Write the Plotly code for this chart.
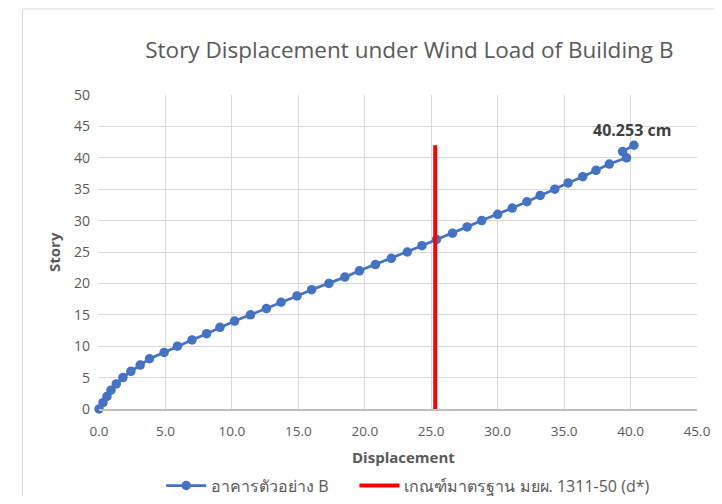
import plotly.graph_objects as go

# Data
story = list(range(0, 43))
displacement = [0.0, 0.3, 0.6, 0.9, 1.3, 1.8, 2.4, 3.1, 3.8, 4.9,
                5.9, 7.0, 8.1, 9.1, 10.2, 11.4, 12.6, 13.7, 14.9, 16.0,
                17.3, 18.5, 19.6, 20.8, 22.0, 23.2, 24.3, 25.4, 26.6, 27.7,
                28.8, 30.0, 31.1, 32.2, 33.2, 34.3, 35.3, 36.4, 37.4, 38.4,
                39.7, 39.4, 40.253]
limit_x = [25.3, 25.3]
limit_y = [0, 42]
series_name = "อาคารตัวอย่าง B"
limit_name = "เกณฑ์มาตรฐาน มยผ. 1311-50 (d*)"
title_text = "Story Displacement under Wind Load of Building B"
x_title = "Displacement"
y_title = "Story"
x_ticks = [0, 5, 10, 15, 20, 25, 30, 35, 40, 45]
y_ticks = [0, 5, 10, 15, 20, 25, 30, 35, 40, 45, 50]

FONT = "Open Sans, Noto Sans, DejaVu Sans, sans-serif"
GRAY = "#595959"

fig = go.Figure()
fig.add_trace(go.Scatter(
    x=displacement, y=story, mode="lines+markers",
    name=series_name + "\u00a0\u00a0\u00a0\u00a0\u00a0",
    line=dict(color="#4472C4", width=2.75),
    marker=dict(color="#4472C4", size=9.5),
    cliponaxis=False,
))
fig.add_trace(go.Scatter(
    x=limit_x, y=limit_y, mode="lines", name=limit_name,
    line=dict(color="#FF0000", width=4),
))

fig.add_annotation(
    x=displacement[-1], y=story[-1], xref="x", yref="y",
    text="<b>%.3f cm</b>" % displacement[-1], showarrow=False,
    xanchor="center", yanchor="middle", xshift=-2, yshift=15,
    font=dict(family=FONT, size=16, color="#404040"),
)
# axis titles
fig.add_annotation(
    x=0.51, y=-0.153, xref="paper", yref="paper", text="<b>%s</b>" % x_title,
    showarrow=False, xanchor="center", yanchor="middle",
    font=dict(family=FONT, size=15, color=GRAY),
)
fig.add_annotation(
    x=-0.0753, y=0.5, xref="paper", yref="paper", text="<b>%s</b>" % y_title,
    showarrow=False, xanchor="center", yanchor="middle", textangle=-90,
    font=dict(family=FONT, size=15, color=GRAY),
)

# chart border (Excel style chart area)
fig.add_shape(type="rect", xref="paper", yref="paper",
              x0=-0.128, x1=1.2, y0=-0.5, y1=1.274,
              line=dict(color="#D9D9D9", width=1), fillcolor="rgba(0,0,0,0)",
              layer="below")

fig.update_layout(
    width=706, height=488,
    margin=dict(l=91, r=17, t=87, b=87, autoexpand=False),
    paper_bgcolor="white", plot_bgcolor="white",
    title=dict(text=title_text, x=0.5685, xanchor="center", y=0.914, yanchor="middle",
               font=dict(family=FONT, size=22.5, color=GRAY)),
    font=dict(family=FONT, color=GRAY),
    showlegend=True,
    legend=dict(orientation="h", x=0.517, xanchor="center", y=-0.244, yanchor="middle",
                font=dict(family=FONT, size=16, color=GRAY), itemwidth=40,
                tracegroupgap=0),
    xaxis=dict(range=[0, 45], tickvals=x_ticks, tickformat=".1f",
               showgrid=True, gridcolor="#D9D9D9", gridwidth=1,
               showline=True, linecolor="#BFBFBF", linewidth=1.5,
               zeroline=False, ticks="", ticklabelstandoff=9,
               tickfont=dict(size=13.5, color=GRAY), automargin=False),
    yaxis=dict(range=[0, 50], tickvals=y_ticks,
               showgrid=True, gridcolor="#D9D9D9", gridwidth=1,
               showline=False, zeroline=False, ticks="", ticklabelstandoff=8,
               tickfont=dict(size=14, color=GRAY), automargin=False),
)

fig.write_html("out.html")
